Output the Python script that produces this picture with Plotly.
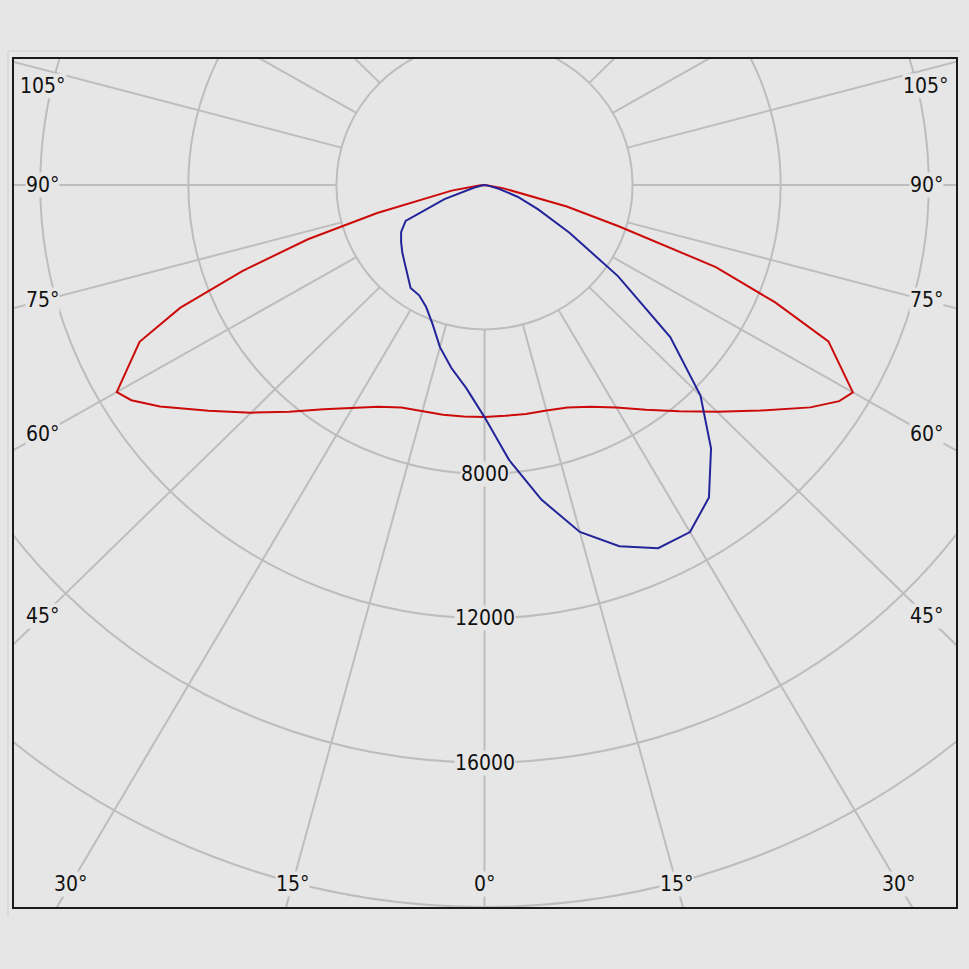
import numpy as np
import plotly.graph_objects as go

# photometric data (cd), gamma measured from nadir
red_gamma = [0, 5, 10, 15, 20, 25, 30, 35, 40, 45, 50, 55, 58, 60, 65, 67.5, 70, 72.5, 75, 80, 85, 90]
red_c180 = [6430, 6440, 6460, 6490, 6560, 6780, 7130, 7580, 8200, 8920, 9730, 10700, 11250, 11470,
            10280, 8900, 6950, 5000, 3000, 900, 150, 0]
red_c0 = [6430, 6420, 6440, 6470, 6560, 6780, 7120, 7600, 8180, 8880, 9720, 10740, 11300, 11490,
          10250, 8500, 6650, 3800, 2300, 500, 80, 0]

blue_gamma = [0, 5, 10, 15, 20, 25, 30, 35, 40, 45, 50, 55, 60, 65, 70, 75, 80, 85, 90]
blue_c270 = [6430, 5650, 5150, 4650, 4100, 3730, 3530, 3480, 3230, 3050, 2900, 2750, 2600, 2350,
             1150, 300, 50, 0, 0]
blue_c90 = [6430, 7650, 8850, 9950, 10650, 11100, 11100, 10570, 9520, 8250, 6550, 4400, 2650, 1600,
            950, 400, 100, 0, 0]

ring_values = [4000, 8000, 12000, 16000, 20000, 24000]
ring_labels = [8000, 12000, 16000]
spoke_angles = list(range(-180, 181, 15))
side_label_angles = [45, 60, 75, 90, 105]
bottom_label_angles = [0, 15, 30]

BG = "#e6e6e6"
GRID = "#bdbdbd"
FONT = "DejaVu Sans Condensed, Liberation Sans, Arial, sans-serif"

X_RANGE = [-12709, 12736]
Y_RANGE = [-20000, 3490]


def to_xy(gamma, left, right):
    # left half (negative x) from 90 down to 0, then right half back up to 90
    g = np.radians(np.array(gamma, dtype=float))
    l = np.array(left, dtype=float)
    r = np.array(right, dtype=float)
    x = np.concatenate([(-l * np.sin(g))[::-1], (r * np.sin(g))[1:]])
    y = np.concatenate([(-l * np.cos(g))[::-1], (-r * np.cos(g))[1:]])
    return x, y


fig = go.Figure()

# grid rings
for r in ring_values:
    fig.add_shape(type="circle", xref="x", yref="y", x0=-r, x1=r, y0=-r, y1=r,
                  line=dict(color=GRID, width=2), layer="below")

# spokes start on the inner ring
r0, r1 = ring_values[0], 40000
for a in spoke_angles:
    t = np.radians(a)
    fig.add_shape(type="line", xref="x", yref="y",
                  x0=r0 * np.sin(t), y0=-r0 * np.cos(t),
                  x1=r1 * np.sin(t), y1=-r1 * np.cos(t),
                  line=dict(color=GRID, width=2), layer="below")

xr, yr = to_xy(red_gamma, red_c180, red_c0)
fig.add_trace(go.Scatter(x=xr, y=yr, mode="lines", line=dict(color="#cc0a0a", width=2),
                         name="C0-C180", hoverinfo="skip"))
xb, yb = to_xy(blue_gamma, blue_c270, blue_c90)
fig.add_trace(go.Scatter(x=xb, y=yb, mode="lines", line=dict(color="#23239a", width=2),
                         name="C90-C270", hoverinfo="skip"))

lab_font = dict(family=FONT, size=21, color="#111111")

# intensity labels on the nadir spoke
for v in ring_labels:
    fig.add_annotation(x=0, y=-v, text=str(v), showarrow=False, font=lab_font,
                       bgcolor=BG, borderpad=0)

# angle labels along the frame
xs = 11930
y_top = 2742
yb_lab = -19360
for a in side_label_angles:
    t = np.radians(a)
    y = min(-xs * np.cos(t) / np.sin(t), y_top)
    for sx in (-1, 1):
        fig.add_annotation(x=sx * xs, y=y, text=f"{a}°", showarrow=False, font=lab_font,
                           bgcolor=BG, borderpad=0)
for a in bottom_label_angles:
    t = np.radians(a)
    x = abs(yb_lab) * np.tan(t)
    for sx in ((1,) if a == 0 else (-1, 1)):
        fig.add_annotation(x=sx * x, y=yb_lab, text=f"{a}°", showarrow=False, font=lab_font,
                           bgcolor=BG, borderpad=0)

# faint outer bevel, left and top edges only
fig.add_shape(type="line", xref="paper", yref="paper", x0=-0.0064, x1=-0.0064, y0=-0.0118, y1=1.0094,
              line=dict(color="#d0d0d0", width=1), layer="below")
fig.add_shape(type="line", xref="paper", yref="paper", x0=-0.0064, x1=1.0053, y0=1.0094, y1=1.0094,
              line=dict(color="#d0d0d0", width=1), layer="below")

fig.update_xaxes(range=X_RANGE, showgrid=False, zeroline=False, showticklabels=False, ticks="",
                 showline=True, mirror=True, linecolor="#1a1a1a", linewidth=1.5, fixedrange=True)
fig.update_yaxes(range=Y_RANGE, showgrid=False, zeroline=False, showticklabels=False, ticks="",
                 showline=True, mirror=True, linecolor="#1a1a1a", linewidth=1.5, fixedrange=True)

fig.update_layout(width=969, height=969, autosize=False,
                  margin=dict(l=14, r=11, t=59, b=62),
                  paper_bgcolor=BG, plot_bgcolor=BG, showlegend=False)

fig.write_html("out.html", config={"displayModeBar": False},
               post_script="document.body.style.margin='0';document.body.style.overflow='hidden';"
                           "document.body.style.background='#e6e6e6';")
